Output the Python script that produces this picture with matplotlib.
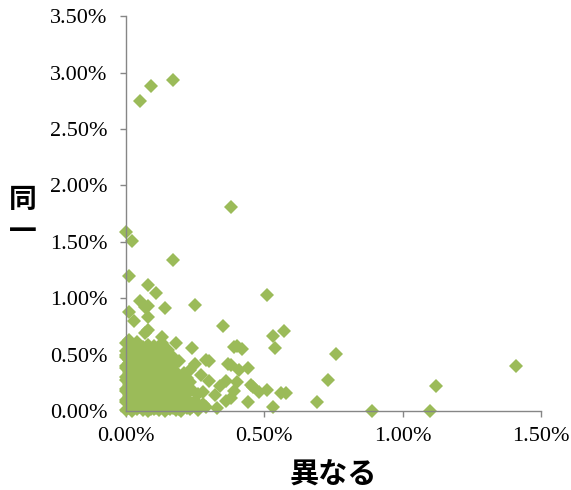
import matplotlib
matplotlib.use("Agg")
import matplotlib.pyplot as plt
from matplotlib.ticker import FuncFormatter

# dense cluster near the origin (x = 異なる %, y = 同一 %)
cluster_x = [
    0.00, 0.02, 0.04, 0.06, 0.08, 0.10, 0.12, 0.14, 0.16, 0.18, 0.20, 0.23, 0.26,
    0.01, 0.03, 0.05, 0.07, 0.09, 0.11, 0.13, 0.15, 0.17, 0.19, 0.21, 0.24, 0.28,
    0.00, 0.02, 0.04, 0.06, 0.08, 0.10, 0.12, 0.14, 0.16, 0.18, 0.20, 0.22, 0.25,
    0.01, 0.03, 0.05, 0.07, 0.09, 0.11, 0.13, 0.15, 0.17, 0.19, 0.22, 0.26,
    0.00, 0.02, 0.04, 0.06, 0.08, 0.10, 0.12, 0.14, 0.16, 0.18, 0.21, 0.24,
    0.01, 0.03, 0.05, 0.07, 0.09, 0.11, 0.13, 0.15, 0.17, 0.20, 0.23,
    0.00, 0.02, 0.04, 0.06, 0.08, 0.10, 0.12, 0.14, 0.16, 0.19, 0.22,
    0.01, 0.03, 0.05, 0.07, 0.09, 0.11, 0.13, 0.15, 0.18, 0.21,
    0.00, 0.02, 0.04, 0.06, 0.08, 0.10, 0.12, 0.14, 0.17,
    0.01, 0.03, 0.05, 0.07, 0.09, 0.11, 0.13, 0.16,
    0.00, 0.02, 0.04, 0.06, 0.08, 0.10, 0.12, 0.15,
    0.01, 0.03, 0.06, 0.09, 0.12,
    0.00, 0.04, 0.08, 0.13,
]
cluster_y = [
    0.01, 0.00, 0.02, 0.01, 0.00, 0.02, 0.01, 0.00, 0.02, 0.01, 0.00, 0.02, 0.01,
    0.06, 0.05, 0.07, 0.05, 0.06, 0.04, 0.06, 0.05, 0.07, 0.05, 0.06, 0.04, 0.06,
    0.10, 0.11, 0.09, 0.10, 0.12, 0.10, 0.11, 0.09, 0.10, 0.12, 0.10, 0.11, 0.09,
    0.15, 0.16, 0.14, 0.15, 0.17, 0.15, 0.14, 0.16, 0.15, 0.14, 0.16, 0.15,
    0.20, 0.21, 0.19, 0.20, 0.22, 0.20, 0.21, 0.19, 0.20, 0.22, 0.20, 0.19,
    0.25, 0.26, 0.24, 0.25, 0.27, 0.25, 0.24, 0.26, 0.25, 0.24, 0.26,
    0.30, 0.31, 0.29, 0.30, 0.32, 0.30, 0.31, 0.29, 0.30, 0.31, 0.29,
    0.35, 0.36, 0.34, 0.35, 0.37, 0.35, 0.34, 0.36, 0.35, 0.34,
    0.40, 0.41, 0.39, 0.40, 0.42, 0.40, 0.41, 0.39, 0.40,
    0.45, 0.46, 0.44, 0.45, 0.47, 0.45, 0.44, 0.46,
    0.50, 0.51, 0.49, 0.50, 0.52, 0.50, 0.51, 0.49,
    0.55, 0.56, 0.54, 0.55, 0.56,
    0.60, 0.61, 0.59, 0.60,
]

# second, offset layer of the cluster
cluster2_x = [
    0.01, 0.03, 0.05, 0.07, 0.09, 0.11, 0.13, 0.15, 0.17, 0.19, 0.22,
    0.00, 0.02, 0.04, 0.06, 0.08, 0.10, 0.12, 0.14, 0.16, 0.18, 0.21,
    0.01, 0.03, 0.05, 0.07, 0.09, 0.11, 0.13, 0.15, 0.17, 0.20,
    0.00, 0.02, 0.04, 0.06, 0.08, 0.10, 0.12, 0.14, 0.16, 0.19,
    0.01, 0.03, 0.05, 0.07, 0.09, 0.11, 0.13, 0.15, 0.18,
    0.00, 0.02, 0.04, 0.06, 0.08, 0.10, 0.12, 0.14, 0.17,
    0.01, 0.03, 0.05, 0.07, 0.09, 0.11, 0.13, 0.16,
    0.00, 0.02, 0.04, 0.06, 0.08, 0.10, 0.12, 0.15,
    0.01, 0.03, 0.05, 0.07, 0.09, 0.11, 0.14,
    0.00, 0.02, 0.04, 0.06, 0.08, 0.10, 0.13,
    0.00, 0.02, 0.05, 0.08, 0.11,
    0.02, 0.06, 0.10,
]
cluster2_y = [
    0.03, 0.03, 0.04, 0.03, 0.02, 0.03, 0.04, 0.03, 0.03, 0.02, 0.03,
    0.08, 0.08, 0.07, 0.08, 0.09, 0.08, 0.07, 0.08, 0.08, 0.09, 0.08,
    0.13, 0.12, 0.13, 0.13, 0.14, 0.12, 0.13, 0.13, 0.12, 0.13,
    0.18, 0.18, 0.17, 0.18, 0.19, 0.18, 0.17, 0.18, 0.18, 0.17,
    0.23, 0.22, 0.23, 0.23, 0.24, 0.22, 0.23, 0.23, 0.22,
    0.28, 0.28, 0.27, 0.28, 0.29, 0.28, 0.27, 0.28, 0.28,
    0.33, 0.32, 0.33, 0.33, 0.34, 0.32, 0.33, 0.33,
    0.38, 0.38, 0.37, 0.38, 0.39, 0.38, 0.37, 0.38,
    0.43, 0.42, 0.43, 0.43, 0.44, 0.42, 0.43,
    0.48, 0.48, 0.47, 0.48, 0.49, 0.48, 0.48,
    0.53, 0.53, 0.52, 0.53, 0.54,
    0.58, 0.57, 0.58,
]

# scattered points outside the cluster
spread_x = [
    0.05, 0.09, 0.17, 0.38, 0.00, 0.02, 0.17, 0.01, 0.08, 0.11,
    0.51, 0.25, 0.35, 0.53, 0.57, 0.54, 0.76, 0.73, 0.69, 0.89,
    1.10, 1.12, 1.41, 0.05, 0.08, 0.07, 0.14, 0.01, 0.08, 0.03,
    0.08, 0.07, 0.01, 0.13, 0.18, 0.15, 0.24, 0.40, 0.42, 0.39,
    0.25, 0.30, 0.38, 0.41, 0.44, 0.46, 0.36, 0.40, 0.51, 0.56,
    0.58, 0.53, 0.44, 0.33, 0.29, 0.28, 0.30, 0.27, 0.23, 0.19,
    0.17, 0.48, 0.45, 0.37, 0.34, 0.32, 0.29, 0.36, 0.39, 0.38,
]
spread_y = [
    2.75, 2.88, 2.93, 1.81, 1.59, 1.51, 1.34, 1.20, 1.12, 1.05,
    1.03, 0.94, 0.75, 0.67, 0.71, 0.56, 0.51, 0.28, 0.08, 0.00,
    0.00, 0.22, 0.40, 0.98, 0.93, 0.92, 0.91, 0.88, 0.83, 0.80,
    0.72, 0.69, 0.63, 0.66, 0.60, 0.54, 0.56, 0.58, 0.55, 0.57,
    0.42, 0.44, 0.41, 0.36, 0.38, 0.21, 0.27, 0.26, 0.19, 0.16,
    0.16, 0.04, 0.08, 0.03, 0.04, 0.17, 0.27, 0.32, 0.36, 0.44,
    0.48, 0.17, 0.23, 0.42, 0.22, 0.14, 0.45, 0.09, 0.18, 0.12,
]

x_ticks = [0.0, 0.5, 1.0, 1.5]
y_ticks = [0.0, 0.5, 1.0, 1.5, 2.0, 2.5, 3.0, 3.5]

green = '#9BBB59'
grey = '#868686'

fig = plt.figure(figsize=(5.71, 4.90), dpi=100)
ax = fig.add_axes([0.2207, 0.161, 0.7268, 0.806])

for xs, ys in [(cluster_x, cluster_y), (cluster2_x, cluster2_y), (spread_x, spread_y)]:
    ax.plot(xs, ys, linestyle='none', marker='D', ms=7,
            color=green, markeredgewidth=0, clip_on=False)

ax.set_xlim(0, 1.5)
ax.set_ylim(0, 3.5)
ax.set_xticks(x_ticks)
ax.set_yticks(y_ticks)
pct = FuncFormatter(lambda v, p: f'{v:.2f}%')
ax.xaxis.set_major_formatter(pct)
ax.yaxis.set_major_formatter(pct)

for side in ['top', 'right']:
    ax.spines[side].set_visible(False)
for side in ['left', 'bottom']:
    ax.spines[side].set_color(grey)
    ax.spines[side].set_linewidth(1.0)
ax.tick_params(direction='out', length=4.3, width=1.0, color=grey,
               labelsize=16, labelcolor='black')
ax.tick_params(axis='y', pad=9)
ax.tick_params(axis='x', pad=7.5)
for lbl in ax.get_xticklabels() + ax.get_yticklabels():
    lbl.set_fontfamily('Liberation Serif')

cjk = ['Noto Sans CJK JP', 'DejaVu Sans']
fig.text(333.5 / 571, 1 - 475 / 490, '異なる', family=cjk, fontsize=21,
         fontweight='bold', ha='center', va='center')
fig.text(23 / 571, 1 - 216 / 490, '同\n一', family=cjk, fontsize=20,
         fontweight='bold', ha='center', va='center', linespacing=1.15)

fig.savefig('out.png', dpi=100)
